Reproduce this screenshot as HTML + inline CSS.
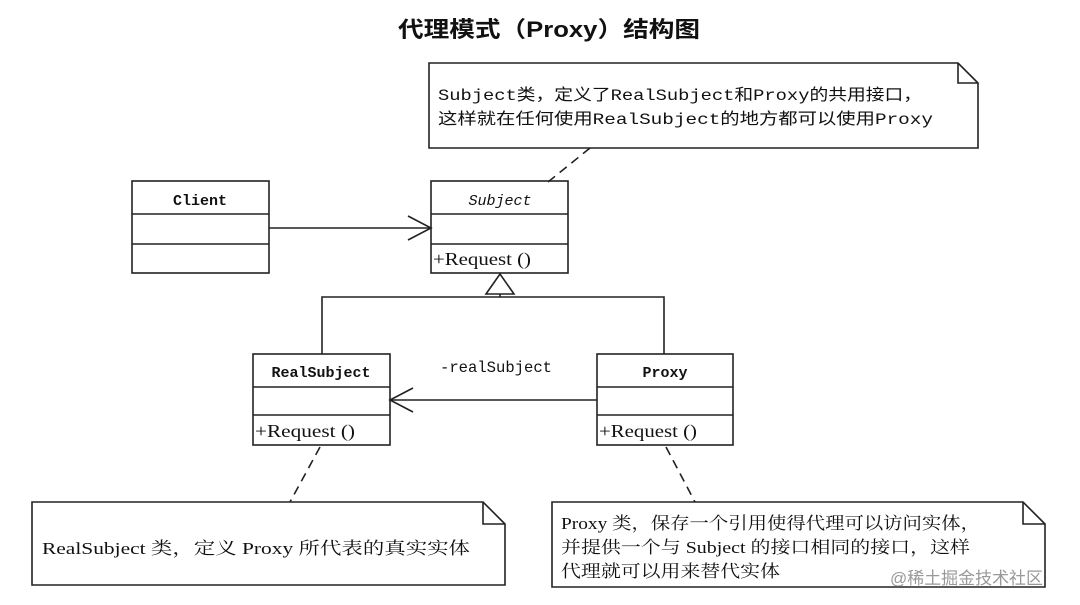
<!DOCTYPE html>
<html><head><meta charset="utf-8"><style>
html,body{margin:0;padding:0;background:#fff;}
svg{display:block;}
text{font-family:"Liberation Serif","Noto Serif CJK SC",serif;fill:#111;}
.m{font-family:"Liberation Mono","Noto Sans CJK SC",monospace;}
</style></head><body>
<svg width="1080" height="605" viewBox="0 0 1080 605" xmlns="http://www.w3.org/2000/svg">
<g stroke="#222" stroke-width="1.6" fill="none">
<path d="M429 63 H958 L978 83 V148 H429 Z"/>
<path d="M958 63 V83 H978"/>
<line x1="590" y1="148" x2="548" y2="182" stroke-dasharray="9,6"/>
<rect x="132" y="181" width="137" height="92"/>
<line x1="132" y1="214" x2="269" y2="214"/><line x1="132" y1="244" x2="269" y2="244"/>
<rect x="431" y="181" width="137" height="92"/>
<line x1="431" y1="214" x2="568" y2="214"/><line x1="431" y1="244" x2="568" y2="244"/>
<line x1="269" y1="228" x2="431" y2="228"/>
<path d="M408 216 L431 228 L408 240"/>
<path d="M500 274 L486 294 L514 294 Z"/>
<line x1="500" y1="294" x2="500" y2="297"/>
<path d="M322 354 V297 H664 V354"/>
<rect x="253" y="354" width="137" height="91"/>
<line x1="253" y1="387" x2="390" y2="387"/><line x1="253" y1="415" x2="390" y2="415"/>
<rect x="597" y="354" width="136" height="91"/>
<line x1="597" y1="387" x2="733" y2="387"/><line x1="597" y1="415" x2="733" y2="415"/>
<line x1="597" y1="400" x2="390" y2="400"/>
<path d="M413 388 L390 400 L413 412"/>
<line x1="320" y1="447" x2="290" y2="502" stroke-dasharray="9,6"/>
<line x1="666" y1="447" x2="695" y2="502" stroke-dasharray="9,6"/>
<path d="M32 502 H483 L505 524 V585 H32 Z"/>
<path d="M483 502 V524 H505"/>
<path d="M552 502 H1023 L1045 524 V587 H552 Z"/>
<path d="M1023 502 V524 H1045"/>
</g>
<text x="398" y="37" font-size="22" font-weight="bold" textLength="302" lengthAdjust="spacingAndGlyphs" style="font-family:'Liberation Sans','Noto Sans CJK SC',sans-serif">代理模式（Proxy）结构图</text>
<text class="m" x="438" y="100" font-size="16" textLength="484" lengthAdjust="spacingAndGlyphs">Subject类，定义了RealSubject和Proxy的共用接口，</text>
<text class="m" x="438" y="124" font-size="16" textLength="495" lengthAdjust="spacingAndGlyphs">这样就在任何使用RealSubject的地方都可以使用Proxy</text>
<text class="m" x="200" y="205" font-size="15" font-weight="bold" text-anchor="middle">Client</text>
<text class="m" x="500" y="205" font-size="15" font-style="italic" text-anchor="middle">Subject</text>
<text x="433" y="265" font-size="18" textLength="98" lengthAdjust="spacingAndGlyphs">+Request ()</text>
<text class="m" x="321" y="377" font-size="15" font-weight="bold" text-anchor="middle">RealSubject</text>
<text x="255" y="437" font-size="18" textLength="100" lengthAdjust="spacingAndGlyphs">+Request ()</text>
<text class="m" x="665" y="377" font-size="15" font-weight="bold" text-anchor="middle">Proxy</text>
<text x="599" y="437" font-size="18" textLength="98" lengthAdjust="spacingAndGlyphs">+Request ()</text>
<text class="m" x="440" y="372" font-size="16" textLength="112" lengthAdjust="spacingAndGlyphs">-realSubject</text>
<text x="42" y="554" font-size="17" textLength="428" lengthAdjust="spacingAndGlyphs">RealSubject 类，定义 Proxy 所代表的真实实体</text>
<text x="561" y="529" font-size="17" textLength="419" lengthAdjust="spacingAndGlyphs">Proxy 类，保存一个引用使得代理可以访问实体，</text>
<text x="561" y="553" font-size="17" textLength="409" lengthAdjust="spacingAndGlyphs">并提供一个与 Subject 的接口相同的接口，这样</text>
<text x="561" y="577" font-size="17" textLength="219" lengthAdjust="spacingAndGlyphs">代理就可以用来替代实体</text>
<text x="890" y="584" font-size="17" textLength="153" lengthAdjust="spacingAndGlyphs" style="fill:#999;font-family:'Liberation Sans','Noto Sans CJK SC',sans-serif">@稀土掘金技术社区</text>
</svg>
</body></html>
